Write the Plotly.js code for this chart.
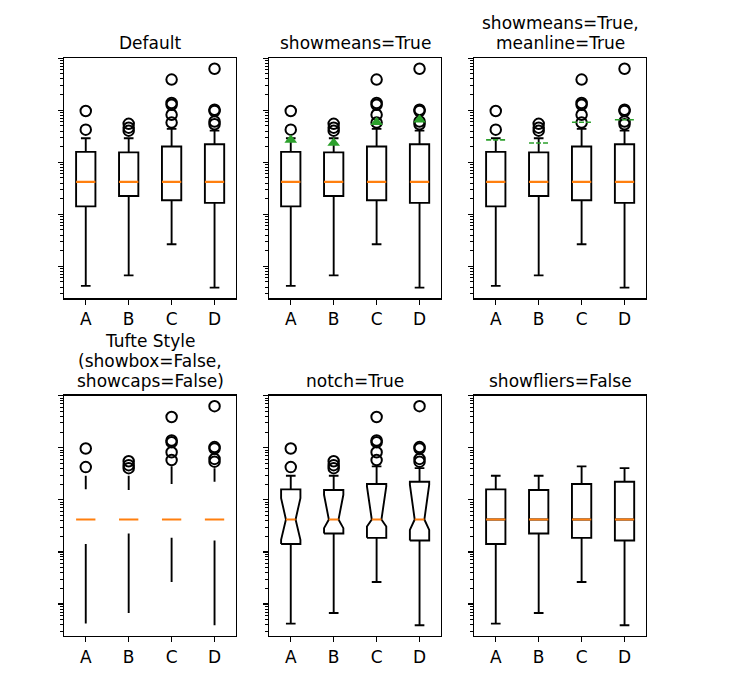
<!DOCTYPE html>
<html>
<head>
<meta charset="utf-8">
<script src="https://cdn.plot.ly/plotly-3.0.1.min.js"></script>
<style>
  html, body { margin: 0; padding: 0; background: #ffffff; }
  #chart { width: 754px; height: 681px; }
</style>
</head>
<body>
<div id="chart"></div>
<script>
// ---- data (log-scaled values) ----
const categories = ['A', 'B', 'C', 'D'];
const q1 = [1.42, 2.25, 1.86, 1.66];
const median = [4.19, 4.19, 4.19, 4.19];
const q3 = [15.9, 15.5, 20.1, 22.3];
const whiskerLo = [0.042, 0.067, 0.265, 0.039];
const whiskerHi = [29, 29, 44, 40.6];
const means = [27, 23.5, 59, 66];
const notchLo = [1.71, 2.86, 3.07, 2.65];
const notchHi = [10.8, 12.5, 18.1, 19.5];
const fliersA = [97, 42.5];
const fliersB = [55, 46.4, 40.6];
const fliersC = [390, 138, 128, 82, 58];
const fliersD = [630, 103, 97, 61, 54];
const fliers = [fliersA, fliersB, fliersC, fliersD];
const panelTitles = [
  'Default',
  'showmeans=True',
  'showmeans=True,\nmeanline=True',
  'Tufte Style\n(showbox=False,\nshowcaps=False)',
  'notch=True',
  'showfliers=False'
];

// ---- style ----
const BOXW = 0.45;
const CAPW = BOXW / 2;
const ORANGE = '#ff7f0e';
const GREEN = '#2ca02c';
const FONT = 'DejaVu Sans, sans-serif';
const FS = 17;
const LINE_STEP = 20;
const pos = categories.map((_, i) => i + 1);

const traces = [];
function ax(n) { return { xaxis: 'x' + (n === 1 ? '' : n), yaxis: 'y' + (n === 1 ? '' : n) }; }

function boxTrace(n) {
  return Object.assign({
    type: 'box', x: pos, q1: q1, median: median, q3: q3,
    lowerfence: whiskerLo, upperfence: whiskerHi,
    width: BOXW, whiskerwidth: 0.5, boxpoints: false,
    line: { color: 'black', width: 1.9 }, fillcolor: 'rgba(0,0,0,0)',
    hoverinfo: 'skip', showlegend: false
  }, ax(n));
}
function segTrace(n, pairs, color, width, dash) {
  const x = [], y = [];
  pairs.forEach(p => { x.push(p[0], p[1], null); y.push(p[2], p[3], null); });
  return Object.assign({
    type: 'scatter', mode: 'lines', x: x, y: y,
    line: { color: color, width: width, dash: dash || 'solid' },
    hoverinfo: 'skip', showlegend: false
  }, ax(n));
}
function medianTrace(n, half) {
  return segTrace(n, pos.map((p, i) => [p - half, p + half, median[i], median[i]]), ORANGE, 2.2);
}
function flierTrace(n) {
  const x = [], y = [];
  fliers.forEach((f, i) => f.forEach(v => { x.push(pos[i]); y.push(v); }));
  return Object.assign({
    type: 'scatter', mode: 'markers', x: x, y: y,
    marker: { symbol: 'circle-open', size: 10.5, color: 'black', line: { width: 2, color: 'black' } },
    hoverinfo: 'skip', showlegend: false
  }, ax(n));
}
function whiskerPairs() {
  const pr = [];
  pos.forEach((p, i) => {
    pr.push([p, p, q3[i], whiskerHi[i]]);
    pr.push([p, p, q1[i], whiskerLo[i]]);
  });
  return pr;
}
function capPairs() {
  const pr = [];
  pos.forEach((p, i) => {
    pr.push([p - CAPW / 2, p + CAPW / 2, whiskerHi[i], whiskerHi[i]]);
    pr.push([p - CAPW / 2, p + CAPW / 2, whiskerLo[i], whiskerLo[i]]);
  });
  return pr;
}

// Panel 1: Default
traces.push(boxTrace(1), medianTrace(1, BOXW / 2), flierTrace(1));
// Panel 2: showmeans
traces.push(boxTrace(2), medianTrace(2, BOXW / 2), flierTrace(2));
traces.push(Object.assign({
  type: 'scatter', mode: 'markers', x: pos, y: means,
  marker: { symbol: 'triangle-up', size: 11, color: GREEN },
  hoverinfo: 'skip', showlegend: false
}, ax(2)));
// Panel 3: meanline
traces.push(boxTrace(3), medianTrace(3, BOXW / 2), flierTrace(3));
traces.push(segTrace(3, pos.map((p, i) => [p - BOXW / 2, p + BOXW / 2, means[i], means[i]]), GREEN, 1.6, '5px,2px'));
// Panel 4: Tufte style
traces.push(segTrace(4, whiskerPairs(), 'black', 1.9));
traces.push(medianTrace(4, BOXW / 2), flierTrace(4));
// Panel 5: notch
(function () {
  const x = [], y = [];
  pos.forEach((p, i) => {
    const l = p - BOXW / 2, r = p + BOXW / 2, nl = p - BOXW / 4, nr = p + BOXW / 4;
    x.push(l, r, r, nr, r, r, l, l, nl, l, l, null);
    y.push(q1[i], q1[i], notchLo[i], median[i], notchHi[i], q3[i], q3[i], notchHi[i], median[i], notchLo[i], q1[i], null);
  });
  traces.push(Object.assign({
    type: 'scatter', mode: 'lines', x: x, y: y,
    line: { color: 'black', width: 1.9 }, hoverinfo: 'skip', showlegend: false
  }, ax(5)));
  traces.push(segTrace(5, whiskerPairs().concat(capPairs()), 'black', 1.9));
  traces.push(medianTrace(5, BOXW / 4), flierTrace(5));
})();
// Panel 6: no fliers
traces.push(boxTrace(6), medianTrace(6, BOXW / 2));

// ---- layout ----
const W = 754, H = 681;
const cols = [[64.3, 236], [269.3, 441], [474.3, 646]];
const rows = [[58.3, 298.3], [395.7, 636]];
const layout = {
  width: W, height: H,
  margin: { l: 0, r: 0, t: 0, b: 0 },
  paper_bgcolor: 'white', plot_bgcolor: 'white',
  showlegend: false,
  font: { family: FONT, size: FS, color: 'black' },
  annotations: []
};
for (let n = 1; n <= 6; n++) {
  const c = cols[(n - 1) % 3], r = rows[Math.floor((n - 1) / 3)];
  const xs = n === 1 ? '' : n;
  const xd = [c[0] / W, c[1] / W];
  const yd = [1 - r[1] / H, 1 - r[0] / H];
  layout['xaxis' + xs] = {
    domain: xd, anchor: 'y' + xs, range: [0.5, 4.5],
    tickmode: 'array', tickvals: pos, ticktext: categories,
    ticks: 'outside', ticklen: 5, tickwidth: 1.3, tickcolor: 'black',
    showline: true, mirror: true, linecolor: 'black', linewidth: 1.3,
    showgrid: false, zeroline: false, fixedrange: true,
    tickfont: { family: FONT, size: FS, color: 'black' }
  };
  layout['yaxis' + xs] = {
    domain: yd, anchor: 'x' + xs, type: 'log', range: [-1.615, 3.0],
    dtick: 1, ticks: 'outside', ticklen: 5, tickwidth: 1.3, tickcolor: 'black',
    showticklabels: false,
    minor: { dtick: 'D1', ticks: 'outside', ticklen: 3, tickwidth: 1, tickcolor: 'black', showgrid: false },
    showline: true, mirror: true, linecolor: 'black', linewidth: 1.3,
    showgrid: false, zeroline: false, fixedrange: true
  };
  const lines = panelTitles[n - 1].split('\n');
  lines.forEach((ln, k) => {
    const fromBottom = lines.length - 1 - k;
    layout.annotations.push({
      text: ln, xref: 'paper', yref: 'paper',
      x: (xd[0] + xd[1]) / 2, y: yd[1], xanchor: 'center', yanchor: 'bottom',
      yshift: 4 + fromBottom * LINE_STEP, showarrow: false, align: 'center',
      borderpad: 0,
      font: { family: FONT, size: FS, color: 'black' }
    });
  });
}

Plotly.newPlot('chart', traces, layout, { staticPlot: true, displayModeBar: false });
</script>
</body>
</html>
